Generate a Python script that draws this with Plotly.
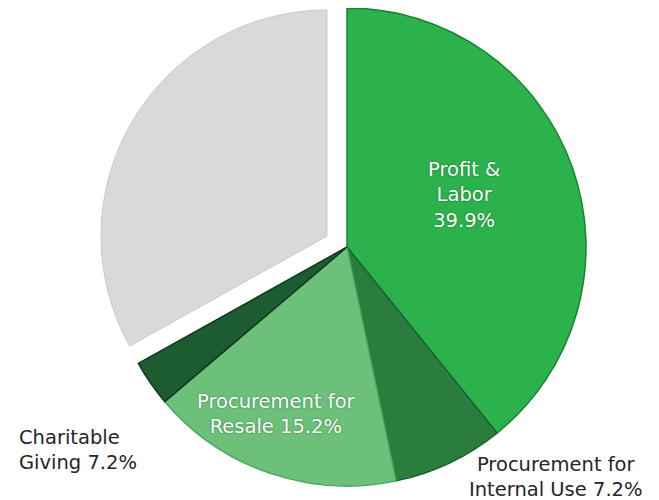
import plotly.graph_objects as go

# Data
categories = ["Profit & Labor", "Procurement for Internal Use", "Procurement for Resale",
              "Charitable Giving", "Other"]
values = [39.2, 7.5, 17.1, 3.1, 33.1]          # slice sizes as drawn
label_texts = ["Profit &<br>Labor<br>39.9%",
               "Procurement for<br>Internal Use 7.2%",
               "Procurement for<br>Resale 15.2%",
               "Charitable<br>Giving 7.2%",
               ""]
slice_colors = ["#2CB24C", "#2B7D3E", "#6CC07A", "#1C5C30", "#D9D9D9"]
edge_colors = ["#17852F", "#1A6230", "#4FA55E", "#0E3A1C", "#C9C9C9"]

W, H = 659, 500
OFF = 8  # page body margin: screen px = figure px + OFF
T = "rgba(0,0,0,0)"


def dom(cx, cy, r):
    cx -= OFF
    cy -= OFF
    y0 = max(0.0, (H - cy - r) / H)
    y1 = min(1.0, (H - cy + r) / H)
    return dict(x=[(cx - r) / W, (cx + r) / W], y=[y0, y1])


fig = go.Figure()

# main (green) slices
fig.add_trace(go.Pie(
    labels=categories, values=values, sort=False, direction="clockwise", rotation=0,
    marker=dict(colors=slice_colors[:4] + [T],
                line=dict(color=edge_colors[:4] + [T], width=[1.5, 1.5, 1.5, 1.5, 0])),
    textinfo="none", hoverinfo="label+percent", showlegend=False,
    domain=dom(347, 247, 239),
))

# exploded grey slice
fig.add_trace(go.Pie(
    labels=categories, values=values, sort=False, direction="clockwise", rotation=0,
    marker=dict(colors=[T, T, T, T, slice_colors[4]],
                line=dict(color=[T, T, T, T, edge_colors[4]], width=[0, 0, 0, 0, 1])),
    textinfo="none", hoverinfo="label+percent", showlegend=False,
    domain=dom(327, 236, 226),
))

FAM = "DejaVu Sans, Liberation Sans, Arial, sans-serif"
font_in = dict(family=FAM, size=19.5, color="white", shadow="0px 0px 2px rgba(0,60,20,0.6)")
font_out = dict(family=FAM, size=19.5, color="#262626", shadow="0px 0px 2px rgba(255,255,255,0.9)")

# label placements (screen pixels)
ann = [
    (label_texts[0], 464, 195, "center", font_in),
    (label_texts[2], 276, 414, "center", font_in),
    (label_texts[3], 17, 450, "left", font_out),
    (label_texts[1], 556, 477, "center", font_out),
]
for txt, px, py, al, f in ann:
    fig.add_annotation(text=txt, x=(px - OFF) / W, y=1 - (py - OFF) / H,
                       xref="paper", yref="paper",
                       showarrow=False, align=al,
                       xanchor="left" if al == "left" else "center", yanchor="middle",
                       font=f)

fig.update_layout(width=W, height=H, margin=dict(l=0, r=0, t=0, b=0),
                  paper_bgcolor="white", plot_bgcolor="white")

fig.write_html("out.html")
